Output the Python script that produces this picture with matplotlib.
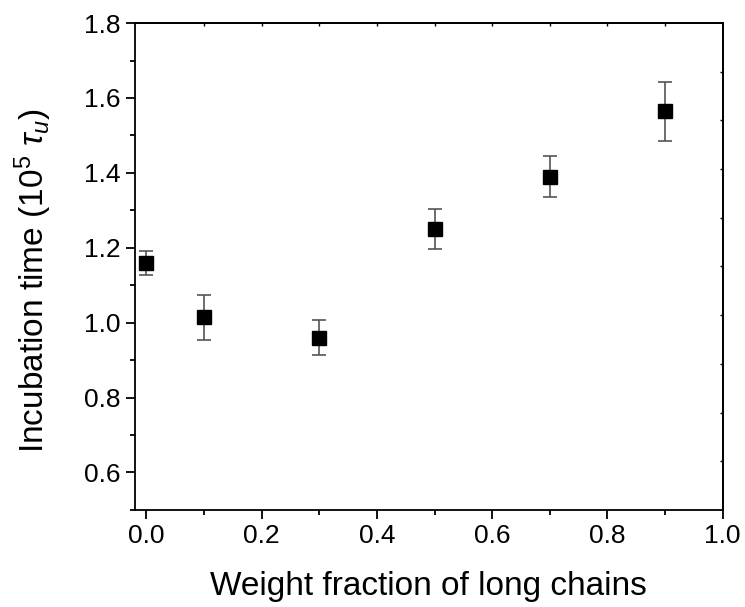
import numpy as np
import matplotlib
matplotlib.use("Agg")
import matplotlib.pyplot as plt
from matplotlib.ticker import MultipleLocator

plt.rcParams['font.family'] = ['Liberation Sans', 'DejaVu Sans']
plt.rcParams['mathtext.fontset'] = 'custom'
plt.rcParams['mathtext.rm'] = 'Liberation Sans'
plt.rcParams['mathtext.it'] = 'Liberation Sans:italic'

# datos
fraccion = [0.0, 0.1, 0.3, 0.5, 0.7, 0.9]
tiempo = [1.158, 1.014, 0.960, 1.250, 1.390, 1.564]
error = [0.032, 0.061, 0.047, 0.054, 0.055, 0.078]

fig = plt.figure(figsize=(7.45, 6.07), dpi=100)
ax = fig.add_axes([0.181, 0.160, 0.789, 0.802])

ax.errorbar(fraccion, tiempo, yerr=error, fmt='s', color='black', markersize=9.5,
            ecolor='#555555', elinewidth=1.2, capsize=5, capthick=1.2)

ax.set_xlim(-0.02, 1.0)
ax.set_ylim(0.5, 1.8)
ax.xaxis.set_major_locator(MultipleLocator(0.2))
ax.xaxis.set_minor_locator(MultipleLocator(0.1))
ax.set_yticks(np.arange(0.6, 1.81, 0.2))
ax.yaxis.set_minor_locator(MultipleLocator(0.1))

ax.tick_params(which='both', direction='out', width=1.3, labelsize=19)
ax.tick_params(which='major', length=6.5)
ax.tick_params(which='minor', length=3.5)
for s in ax.spines.values():
    s.set_linewidth(1.3)

ax.set_xlabel("Weight fraction of long chains", fontsize=24, labelpad=17)
ax.set_ylabel(r"Incubation time (10$^5$ $\tau_u$)", fontsize=24)
ax.yaxis.set_label_coords(-0.137, 0.47)

# ticks pequenos hacia dentro en el borde superior y derecho
ax2 = ax.secondary_xaxis('top')
ax2.set_xticks(np.arange(0.1, 1.0, 0.1))
ax2.set_xticklabels([])
ax2.tick_params(which='both', direction='in', length=2, width=1.0)
ax2.spines['top'].set_linewidth(1.3)
ax3 = ax.secondary_yaxis('right')
ax3.set_yticks(np.linspace(0.5, 1.8, 11)[1:-1])
ax3.set_yticklabels([])
ax3.tick_params(which='both', direction='in', length=2, width=1.0)
ax3.spines['right'].set_linewidth(1.3)

plt.savefig("out.png", dpi=100)
plt.close()
